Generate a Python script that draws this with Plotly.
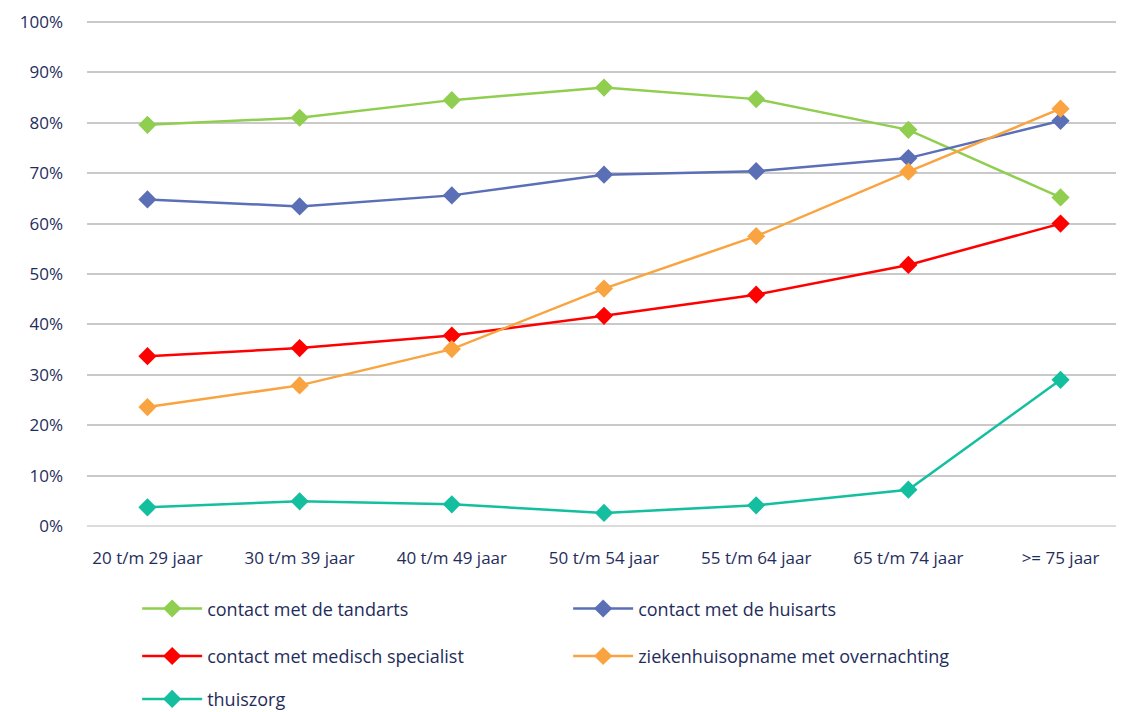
import plotly.graph_objects as go

categories = ["20 t/m 29 jaar", "30 t/m 39 jaar", "40 t/m 49 jaar", "50 t/m 54 jaar",
              "55 t/m 64 jaar", "65 t/m 74 jaar", ">= 75 jaar"]
tandarts = [79.6, 81.0, 84.5, 87.0, 84.7, 78.6, 65.2]
huisarts = [64.8, 63.4, 65.6, 69.7, 70.4, 73.0, 80.4]
specialist = [33.7, 35.3, 37.8, 41.7, 45.9, 51.8, 60.0]
ziekenhuis = [23.6, 27.9, 35.1, 47.1, 57.5, 70.3, 82.8]
thuiszorg = [3.7, 4.9, 4.3, 2.6, 4.1, 7.2, 29.0]
y_ticks = [0, 10, 20, 30, 40, 50, 60, 70, 80, 90, 100]
y_tick_labels = [f"{v}%" for v in y_ticks]

series = [
    ("contact met de tandarts", tandarts, "#8fce4f", "legend"),
    ("contact met de huisarts", huisarts, "#5a6fb6", "legend"),
    ("contact met medisch specialist", specialist, "#ff0000", "legend2"),
    ("ziekenhuisopname met overnachting", ziekenhuis, "#f9a441", "legend2"),
    ("thuiszorg", thuiszorg, "#14bf9f", "legend3"),
]

FONT = "Open Sans"
TXT = "#1f2d5c"

fig = go.Figure()
for name, vals, col, lg in series:
    fig.add_trace(go.Scatter(
        x=categories, y=vals, name=name, mode="lines+markers",
        line=dict(color=col, width=2.5),
        marker=dict(symbol="diamond", size=14, color=col),
        legend=lg,
    ))

leg_common = dict(orientation="h", xanchor="left", yanchor="middle",
                  font=dict(family=FONT, size=18, color=TXT),
                  entrywidth=356, entrywidthmode="pixels",
                  bgcolor="rgba(0,0,0,0)", itemwidth=60)

fig.update_layout(
    width=1124, height=712,
    margin=dict(l=79, r=11, t=13, b=194, autoexpand=False),
    paper_bgcolor="white", plot_bgcolor="white",
    font=dict(family=FONT, size=17, color=TXT),
    legend=dict(x=0.0485, y=-0.164, yref="paper", **leg_common),
    legend2=dict(x=0.0485, y=-0.258, yref="paper", **leg_common),
    legend3=dict(x=0.0485, y=-0.343, yref="paper", **leg_common),
    xaxis=dict(showgrid=False, showline=False, ticks="",
               tickfont=dict(family=FONT, size=17, color=TXT),
               ticklabelstandoff=20),
    yaxis=dict(range=[0, 100.2], tickvals=y_ticks, ticktext=y_tick_labels,
               showgrid=True, gridcolor="#c9c9c9", gridwidth=2,
               zeroline=True, zerolinecolor="#dcdcdc", zerolinewidth=2,
               showline=False, ticks="", ticklabeloverflow="allow",
               tickfont=dict(family=FONT, size=17, color=TXT),
               ticklabelstandoff=23),
)

fig.write_html("out.html")
